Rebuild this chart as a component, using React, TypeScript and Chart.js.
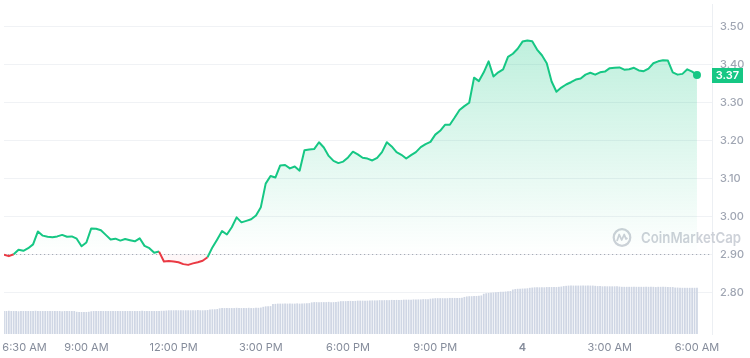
import React, { useEffect, useRef } from "react";
import { Chart, registerables } from "chart.js";

Chart.register(...registerables);

// ---- data (minutes counted from 6:10 AM) ----
const PRICE_STEP_MIN = 10;
const prices = [
  2.899, 2.895, 2.900, 2.912, 2.909, 2.916, 2.926, 2.960, 2.949, 2.946,
  2.945, 2.947, 2.951, 2.946, 2.947, 2.941, 2.921, 2.931, 2.968, 2.967,
  2.963, 2.951, 2.939, 2.941, 2.936, 2.940, 2.937, 2.934, 2.942, 2.922,
  2.916, 2.904, 2.907, 2.881, 2.882, 2.881, 2.879, 2.874, 2.872, 2.876,
  2.879, 2.883, 2.892, 2.918, 2.939, 2.961, 2.952, 2.971, 2.997, 2.984,
  2.988, 2.992, 3.002, 3.024, 3.086, 3.106, 3.102, 3.134, 3.135, 3.126,
  3.131, 3.120, 3.174, 3.176, 3.177, 3.195, 3.181, 3.159, 3.146, 3.140,
  3.144, 3.155, 3.170, 3.163, 3.154, 3.152, 3.147, 3.154, 3.169, 3.195,
  3.184, 3.169, 3.162, 3.152, 3.161, 3.169, 3.182, 3.190, 3.196, 3.215,
  3.225, 3.241, 3.241, 3.260, 3.280, 3.290, 3.299, 3.365, 3.356, 3.379,
  3.408, 3.368, 3.379, 3.387, 3.420, 3.428, 3.441, 3.460, 3.463, 3.461,
  3.439, 3.424, 3.403, 3.355, 3.328, 3.339, 3.347, 3.353, 3.360, 3.363,
  3.373, 3.378, 3.373, 3.379, 3.381, 3.390, 3.391, 3.392, 3.386, 3.387,
  3.391, 3.384, 3.382, 3.389, 3.403, 3.408, 3.411, 3.410, 3.379, 3.373,
  3.375, 3.387, 3.381, 3.372,
];

const VOLUME_STEP_MIN = 5;
const volumes = [
  93, 93, 94, 93, 93, 93, 92, 93, 93, 93, 93, 93, 93, 94, 93, 93, 93, 93, 93, 93,
  93, 93, 93, 93, 92, 93, 93, 93, 93, 93,
  90, 89, 89, 89, 89, 90,
  92, 93, 93, 93, 93, 93, 93, 93, 93, 93, 93, 93, 93, 93, 93, 93, 93, 93, 93, 93,
  93, 94, 93, 93, 93, 93, 93, 93, 93, 94, 94,
  95, 96, 96, 96, 96, 96, 96, 96, 96, 96, 96, 96, 96, 97, 96, 96, 96, 97,
  99, 100, 100, 101,
  104, 105, 105, 105, 105, 105, 105, 106, 105, 105, 105, 105, 106, 105, 105, 106, 106, 107,
  110, 112, 112, 113,
  121, 122, 123, 123, 123, 123, 123, 123, 123, 123, 124, 123, 123, 124, 124, 125,
  128, 129, 129, 129, 129, 129, 129, 130, 129, 129, 130, 131,
  133, 133, 133, 134, 134, 134, 134, 135, 135, 135, 135, 135, 136, 136, 136, 136, 137, 137,
  137, 137, 137, 138, 138, 138, 138, 138, 139, 139, 139, 139, 140, 140, 140, 140, 141, 141, 141,
  143, 144, 145, 145, 145, 145, 145, 145, 146, 146, 146, 146, 146, 147,
  150, 152, 153, 153, 154, 154, 155, 156,
  163, 165, 166, 167, 168, 169, 170, 171, 171, 172, 173, 174,
  180, 182, 183, 183, 184, 184, 185,
  187, 188, 189, 189, 189, 189, 189, 190, 190, 190, 190, 190, 191, 192,
  194, 195, 196, 196, 196, 196, 196, 196, 196, 196, 196, 196, 196, 195,
  194, 194, 193, 193, 193, 193, 193, 193, 193, 192,
  191, 191, 191, 191, 191, 191, 191, 191, 191, 191, 191, 191, 191, 191, 190, 191, 191, 191,
  191, 190, 190, 190,
  188, 188, 187, 187, 187, 187, 187, 187, 187, 187,
];

const tickMinutes = [20, 170, 350, 530, 710, 890, 1070, 1250, 1430];
const tickLabels = ["6:30 AM", "9:00 AM", "12:00 PM", "3:00 PM", "6:00 PM", "9:00 PM", "4", "3:00 AM", "6:00 AM"];
const priceTicks = [2.8, 2.9, 3.0, 3.1, 3.2, 3.3, 3.4, 3.5];
const openPrice = 2.9;

const GREEN = "#16c784";
const RED = "#ea3943";

const decorPlugin = {
  id: "decor",
  beforeDatasetsDraw(chart: any) {
    const { ctx, chartArea, scales } = chart;
    const yb = Math.round(scales.y.getPixelForValue(openPrice)) + 0.5;
    // watermark
    const cx = chartArea.right - 90;
    const cy = yb - 17;
    ctx.save();
    ctx.strokeStyle = "#cdd1d8";
    ctx.fillStyle = "#cdd1d8";
    ctx.lineWidth = 2.2;
    ctx.beginPath();
    ctx.arc(cx, cy, 8.3, 0, Math.PI * 2);
    ctx.stroke();
    ctx.lineWidth = 1.8;
    ctx.lineJoin = "round";
    ctx.beginPath();
    ctx.moveTo(cx - 5, cy + 3.5);
    ctx.lineTo(cx - 2.8, cy - 3);
    ctx.lineTo(cx - 0.3, cy + 2.5);
    ctx.lineTo(cx + 2.2, cy - 3);
    ctx.lineTo(cx + 4, cy + 1.5);
    ctx.lineTo(cx + 5.5, cy + 0.5);
    ctx.stroke();
    ctx.font = "600 15px Inter";
    ctx.textAlign = "left";
    ctx.textBaseline = "middle";
    ctx.fillText("CoinMarketCap", cx + 19, cy + 0.5, 100);
    // dotted open-price line
    ctx.strokeStyle = "#a7adb7";
    ctx.lineWidth = 1;
    ctx.setLineDash([1.2, 2.8]);
    ctx.beginPath();
    ctx.moveTo(chartArea.left, yb);
    ctx.lineTo(chartArea.right, yb);
    ctx.stroke();
    ctx.restore();
  },
  afterDraw(chart: any) {
    const { ctx, chartArea, scales } = chart;
    const last = prices[prices.length - 1];
    const y = scales.y.getPixelForValue(last);
    const x = chartArea.right;
    ctx.save();
    ctx.fillStyle = GREEN;
    ctx.fillRect(x, Math.round(y - 7.5), 31, 15);
    ctx.fillStyle = "#ffffff";
    ctx.font = "600 11px Inter";
    ctx.textAlign = "center";
    ctx.textBaseline = "middle";
    ctx.fillText(last.toFixed(2), x + 15.5, Math.round(y - 7.5) + 8);
    ctx.restore();
  },
};

export default function App() {
  const ref = useRef<HTMLCanvasElement | null>(null);

  useEffect(() => {
    if (!ref.current) return;
    const priceData = prices.map((p, i) => ({ x: i * PRICE_STEP_MIN, y: p }));
    const volData = volumes.map((v, i) => ({ x: i * VOLUME_STEP_MIN, y: v }));
    const lastIdx = prices.length - 1;

    const chart = new Chart(ref.current, {
      data: {
        datasets: [
          {
            type: "line",
            data: priceData,
            yAxisID: "y",
            borderColor: GREEN,
            borderWidth: 2,
            borderJoinStyle: "round",
            tension: 0,
            pointRadius: (c: any) => (c.dataIndex === lastIdx ? 4 : 0),
            pointBackgroundColor: GREEN,
            pointBorderWidth: 0,
            pointHoverRadius: 0,
            segment: {
              borderColor: (c: any) =>
                (c.p0.parsed.y + c.p1.parsed.y) / 2 < openPrice ? RED : GREEN,
            },
            backgroundColor: (c: any) => {
              const ch = c.chart;
              const { chartArea, scales } = ch;
              if (!chartArea) return "rgba(22,199,132,0.15)";
              const yb = scales.y.getPixelForValue(openPrice);
              const g = ch.ctx.createLinearGradient(0, chartArea.top, 0, yb);
              g.addColorStop(0, "rgba(22,199,132,0.32)");
              g.addColorStop(1, "rgba(22,199,132,0.0)");
              return g;
            },
            fill: { target: { value: openPrice }, below: "rgba(234,57,67,0.04)" },
            order: 0,
          } as any,
          {
            type: "bar",
            data: volData,
            yAxisID: "yv",
            backgroundColor: "#cfd6e4",
            barPercentage: 1,
            categoryPercentage: 0.72,
            order: 1,
          } as any,
        ],
      },
      options: {
        responsive: false,
        animation: false,
        events: [],
        layout: { padding: { left: 0, right: 0, top: 0, bottom: 4 } },
        plugins: { legend: { display: false }, tooltip: { enabled: false } },
        scales: {
          x: {
            type: "linear",
            min: 0,
            max: 1461,
            offset: false,
            grid: { display: false, drawTicks: false, offset: false },
            border: { display: false },
            afterBuildTicks: (s: any) => {
              s.ticks = tickMinutes.map((v) => ({ value: v }));
            },
            afterFit: (s: any) => {
              s.paddingLeft = 0;
              s.paddingRight = 0;
              s.height = 20;
            },
            ticks: {
              autoSkip: false,
              maxRotation: 0,
              padding: 7,
              color: "#858c9b",
              font: (c: any) => ({
                family: "Inter",
                size: 11,
                weight: tickLabels[c.index] === "4" ? "600" : "400",
              }),
              callback: (_v: any, i: number) =>
                i === 0 ? "       " + tickLabels[i] : tickLabels[i],
            },
          },
          y: {
            position: "right",
            min: 2.69,
            max: 3.559,
            afterBuildTicks: (s: any) => {
              s.ticks = priceTicks.map((v) => ({ value: v }));
            },
            afterFit: (s: any) => {
              s.width = 38;
              s.paddingTop = 0;
              s.paddingBottom = 0;
            },
            grid: { color: "#f0f2f5", drawTicks: false },
            border: { display: true, color: "#eceff3" },
            ticks: {
              padding: 8,
              color: "#a0a6b3",
              font: { family: "Inter", size: 11, weight: "500" },
              callback: (v: any) => Number(v).toFixed(2),
            },
          },
          yv: { display: false, min: 0, max: 1336 },
        },
      } as any,
      plugins: [decorPlugin],
    });
    return () => chart.destroy();
  }, []);

  return (
    <div style={{ position: "fixed", left: 0, top: 0, width: 750, height: 358, background: "#fff" }}>
      <canvas ref={ref} width={750} height={358} style={{ display: "block" }} />
    </div>
  );
}
